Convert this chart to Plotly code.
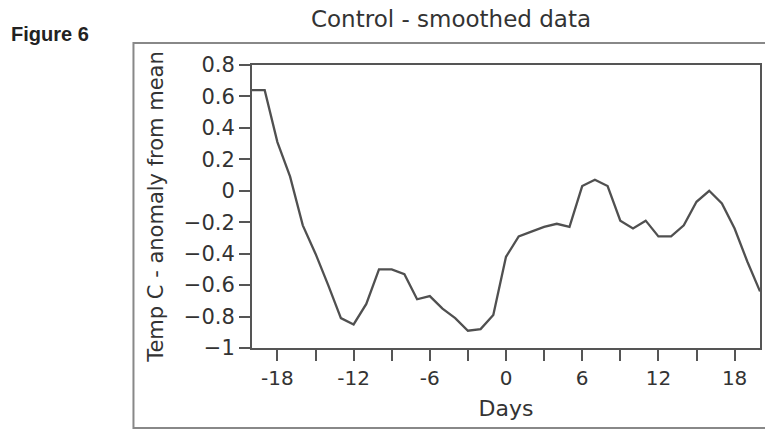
import plotly.graph_objects as go

# ---- data ----
days = list(range(-20, 21))
temp_anomaly = [
    0.64, 0.64, 0.31, 0.09, -0.22, -0.40, -0.60, -0.81, -0.85, -0.72,
    -0.50, -0.50, -0.53, -0.69, -0.67, -0.75, -0.81, -0.89, -0.88, -0.79,
    -0.42, -0.29, -0.26, -0.23, -0.21, -0.23, 0.03, 0.07, 0.03, -0.19,
    -0.24, -0.19, -0.29, -0.29, -0.22, -0.07, 0.00, -0.08, -0.24, -0.45,
    -0.64,
]
x_tickvals = [-18, -15, -12, -9, -6, -3, 0, 3, 6, 9, 12, 15, 18]
x_ticktext = ["-18", "", "-12", "", "-6", "", "0", "", "6", "", "12", "", "18"]
y_tickvals = [0.8, 0.6, 0.4, 0.2, 0, -0.2, -0.4, -0.6, -0.8, -1]
y_ticktext = ["0.8", "0.6", "0.4", "0.2", "0", "\u22120.2", "\u22120.4",
              "\u22120.6", "\u22120.8", "\u22121"]

title_text = "Control - smoothed data"
x_title = "Days"
y_title = "Temp C - anomaly from mean"
figure_label = "Figure 6"

AX = "#555555"
FONT = "DejaVu Sans"
TXT = "#333333"

fig = go.Figure()
fig.add_trace(go.Scatter(
    x=days, y=temp_anomaly, mode="lines",
    line=dict(color="#505050", width=2.3),
    showlegend=False, hoverinfo="skip",
))

# plot area: x 252..762 px, y 65..348 px
L, R, T, B = 252, 3, 65, 82
W, H = 765, 430
pw, ph = W - L - R, H - T - B

def px_x(px):
    return (px - L) / pw

def px_y(py):
    return (H - B - py) / ph

fig.update_layout(
    width=W, height=H,
    margin=dict(l=L, r=R, t=T, b=B),
    paper_bgcolor="white", plot_bgcolor="white",
    font=dict(family=FONT, color=TXT),
    title=dict(text=title_text, x=451 / W, xref="container", xanchor="center",
               y=1 - 19 / H, yref="container", yanchor="middle",
               font=dict(family=FONT, size=23, color=TXT)),
    xaxis=dict(
        range=[-20, 20], tickvals=x_tickvals, ticktext=x_ticktext,
        showgrid=False, zeroline=False,
        showline=True, linecolor=AX, linewidth=2, mirror=True,
        ticks="outside", ticklen=11, tickwidth=1.5, tickcolor=AX,
        tickfont=dict(family=FONT, size=20, color=TXT),
        title=dict(text=x_title, standoff=12,
                   font=dict(family=FONT, size=22, color=TXT)),
    ),
    yaxis=dict(
        range=[-1, 0.8], tickvals=y_tickvals, ticktext=y_ticktext,
        showgrid=False, zeroline=False,
        showline=True, linecolor=AX, linewidth=2, mirror=True,
        ticks="outside", ticklen=11, tickwidth=1.5, tickcolor=AX,
        tickfont=dict(family=FONT, size=21, color=TXT),
        title=dict(text=y_title, standoff=14,
                   font=dict(family=FONT, size=21, color=TXT)),
    ),
    shapes=[dict(
        type="rect", xref="paper", yref="paper",
        x0=px_x(133), x1=px_x(800), y0=px_y(428), y1=px_y(43),
        line=dict(color="#888888", width=2), fillcolor="rgba(0,0,0,0)",
        layer="below",
    )],
    annotations=[dict(
        text="<b>" + figure_label + "</b>", xref="paper", yref="paper",
        x=px_x(8), y=px_y(34), xanchor="left", yanchor="middle",
        showarrow=False,
        font=dict(family="Liberation Sans", size=20, color="#222222"),
    )],
)

fig.write_html(
    "out.html",
    config={"displayModeBar": False},
    post_script="document.body.style.margin='0';document.body.style.overflow='hidden';",
)
